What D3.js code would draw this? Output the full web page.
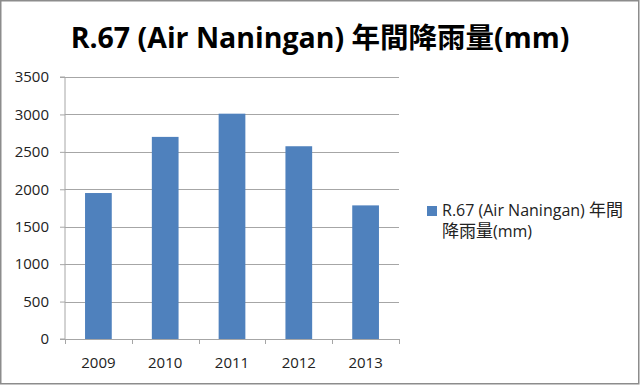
<!DOCTYPE html>
<html>
<head>
<meta charset="utf-8">
<script src="https://cdn.jsdelivr.net/npm/d3@7"></script>
<style>
  body { margin: 0; background: #fff; }
  text { font-family: "Open Sans", "Noto Sans CJK TC", sans-serif; fill: #222; }
</style>
</head>
<body>
<div id="chart"></div>
<script>
var years = ['2009', '2010', '2011', '2012', '2013'];
var rainfall = [1950, 2700, 3010, 2575, 1785];
var yTicks = [0, 500, 1000, 1500, 2000, 2500, 3000, 3500];
var seriesName = 'R.67 (Air Naningan) 年間降雨量(mm)';

var svgWidth = 640;
var svgHeight = 385;

var margin = { top: 77, left: 65 };
var width = 334;
var height = 262;

var svg = d3.select('#chart')
    .append('svg')
    .attr('width', svgWidth)
    .attr('height', svgHeight);

// frame
svg.append('rect')
    .attr('x', 0.75).attr('y', 0.75)
    .attr('width', svgWidth - 2).attr('height', svgHeight - 2)
    .attr('fill', '#fff')
    .attr('stroke', '#8c8c8c')
    .attr('stroke-width', 1.5);

svg.append('text')
    .attr('x', 320)
    .attr('y', 48)
    .attr('text-anchor', 'middle')
    .style('font-size', '28.5px')
    .style('font-weight', 'bold')
    .style('fill', '#000')
    .text(seriesName);

var chartGroup = svg.append('g')
    .attr('transform', `translate(${margin.left}, ${margin.top})`);

var xScale = d3.scaleBand()
    .domain(years)
    .range([0, width])
    .paddingInner(0.6)
    .paddingOuter(0.3);

var xTickScale = d3.scaleBand().domain(years).range([0, width]);

var yScale = d3.scaleLinear()
    .domain([0, 3500])
    .range([height, 0]);

// gridlines
chartGroup.selectAll('line.grid')
    .data(yTicks.slice(1))
    .enter()
    .append('line')
    .attr('class', 'grid')
    .attr('x1', 0).attr('x2', width)
    .attr('y1', d => Math.round(yScale(d)) + 0.5)
    .attr('y2', d => Math.round(yScale(d)) + 0.5)
    .attr('stroke', '#a6a6a6');

var leftAxis = d3.axisLeft(yScale).tickValues(yTicks).tickFormat(d3.format('d')).tickSize(5).tickPadding(11);
var yAxisG = chartGroup.append('g').call(leftAxis);
yAxisG.select('.domain').attr('stroke', '#a6a6a6').attr('d', `M-5,${height}H0V0H-5`);
yAxisG.selectAll('.tick line').attr('stroke', '#a6a6a6');
yAxisG.selectAll('text').style('font-size', '15px').style('font-family', '"Open Sans", sans-serif').attr('fill', '#222');

chartGroup.selectAll('rect.bar')
    .data(rainfall)
    .enter()
    .append('rect')
    .attr('class', 'bar')
    .attr('x', (d, i) => xScale(years[i]))
    .attr('y', d => yScale(d))
    .attr('width', xScale.bandwidth())
    .attr('height', d => height - yScale(d))
    .attr('fill', '#4f81bd');

var bottomAxis = d3.axisBottom(xTickScale).tickSize(0);
var xAxisG = chartGroup.append('g')
    .attr('transform', `translate(0, ${height})`)
    .call(bottomAxis);
xAxisG.select('.domain').attr('stroke', '#a6a6a6').attr('d', `M0,0.5H${width}`);
xAxisG.selectAll('text')
    .attr('y', 29).attr('dy', 0)
    .style('font-size', '15px').style('font-family', '"Open Sans", sans-serif').attr('fill', '#222');

// category separators on the x axis
chartGroup.selectAll('line.xsep')
    .data(years.concat(['end']))
    .enter()
    .append('line')
    .attr('class', 'xsep')
    .attr('x1', (d, i) => Math.round(i * xTickScale.step()) + 0.5)
    .attr('x2', (d, i) => Math.round(i * xTickScale.step()) + 0.5)
    .attr('y1', height)
    .attr('y2', height + 5)
    .attr('stroke', '#a6a6a6');

// legend
var legend = svg.append('g').attr('transform', 'translate(427, 206)');
legend.append('rect')
    .attr('width', 10).attr('height', 10)
    .attr('fill', '#4f81bd');
var l1 = legend.append('text')
    .attr('x', 15).attr('y', 10)
    .style('font-size', '16px');
l1.append('tspan').text('R.67 (Air Naningan) ');
l1.append('tspan').style('font-size', '17px').text('年間');
var l2 = legend.append('text')
    .attr('x', 15).attr('y', 31)
    .style('font-size', '16px');
l2.append('tspan').style('font-size', '17px').text('降雨量');
l2.append('tspan').text('(mm)');
</script>
</body>
</html>
